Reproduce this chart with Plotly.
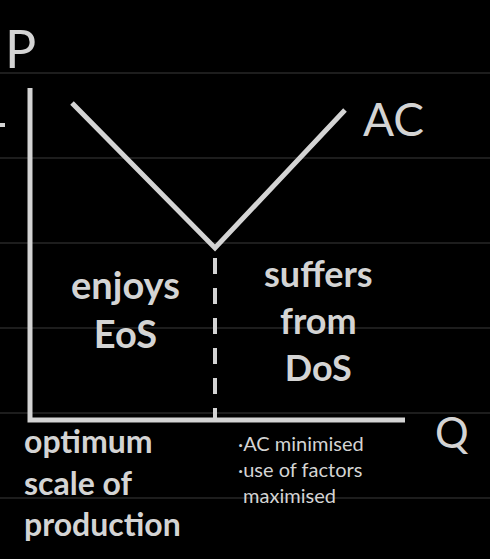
import plotly.graph_objects as go

# data (sketch coordinates)
q_ac = [72, 215, 345]
p_ac = [103, 248, 110]
min_q = 215
notebook_lines = [73, 158, 243, 328, 413, 498]
C = "#d4d4d4"
FONT = "Comic Sans MS, Lato, sans-serif"

fig = go.Figure()
for y in notebook_lines:
    fig.add_trace(go.Scatter(x=[0, 490], y=[y, y], mode="lines",
                             line=dict(color="#3a3a3a", width=1), hoverinfo="skip"))
# axes
fig.add_trace(go.Scatter(x=[30, 30, 405], y=[88, 420, 420], mode="lines",
                         line=dict(color=C, width=5)))
fig.add_trace(go.Scatter(x=[0, 5], y=[125, 125], mode="lines", line=dict(color=C, width=4)))
# AC curve
fig.add_trace(go.Scatter(x=q_ac, y=p_ac, mode="lines", line=dict(color=C, width=5)))
# dashed min line
fig.add_trace(go.Scatter(x=[min_q, min_q], y=[258, 420], mode="lines",
                         line=dict(color=C, width=4, dash="16px,14px")))

def t(x, y, s, size, anchor="center", align="center"):
    fig.add_annotation(x=x, y=y, text=s, showarrow=False, xanchor=anchor, align=align,
                       font=dict(color=C, size=size, family=FONT))

t(20, 48, "P", 52)
t(393, 118, "AC", 46)
t(452, 432, "Q", 42)
t(125, 308, "<b>enjoys</b><br><b>EoS</b>", 38)
t(318, 320, "<b>suffers</b><br><b>from</b><br><b>DoS</b>", 36)
t(22, 482, "<b>optimum</b><br><b>scale of</b><br><b>production</b>", 32, "left", "left")
t(236, 469, "·AC minimised<br>·use of factors<br> maximised", 20, "left", "left")

fig.update_layout(width=490, height=559, margin=dict(l=0, r=0, t=0, b=0),
                  paper_bgcolor="black", plot_bgcolor="black", showlegend=False,
                  xaxis=dict(range=[0, 490], visible=False),
                  yaxis=dict(range=[559, 0], visible=False))
fig.write_html("out.html", config={"displayModeBar": False},
               post_script="document.body.style.margin='0';document.body.style.background='black';")
